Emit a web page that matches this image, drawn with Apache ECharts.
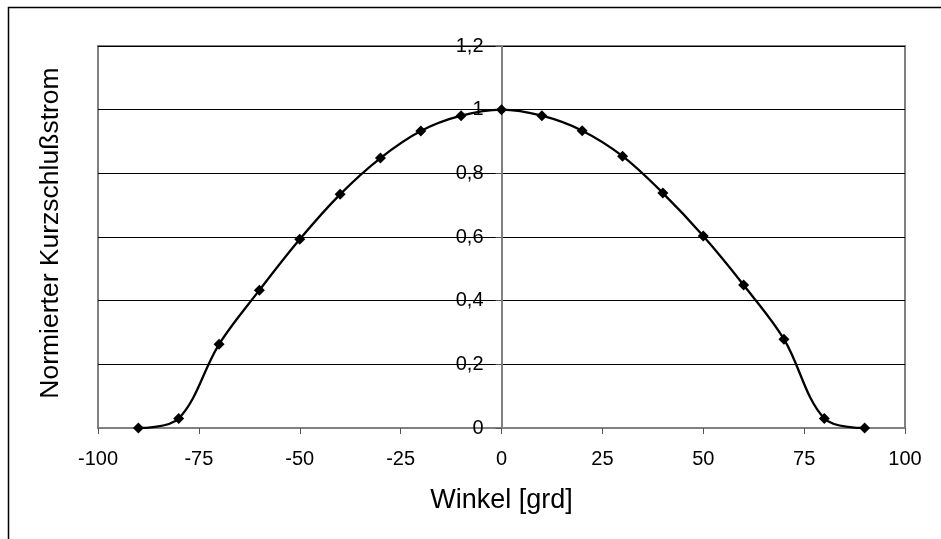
<!DOCTYPE html>
<html>
<head>
<meta charset="utf-8">
<script src="https://cdn.jsdelivr.net/npm/echarts@6/dist/echarts.min.js"></script>
<style>
html,body{margin:0;padding:0;background:#fff;}
#chart{width:941px;height:539px;}
</style>
</head>
<body>
<div id="chart"></div>
<script>
const angles = [-90, -80, -70, -60, -50, -40, -30, -20, -10, 0, 10, 20, 30, 40, 50, 60, 70, 80, 90];
const current = [0, 0.03, 0.263, 0.433, 0.593, 0.734, 0.848, 0.933, 0.981, 1.0, 0.981, 0.934, 0.854, 0.738, 0.603, 0.449, 0.279, 0.03, 0];
const xTitle = 'Winkel [grd]';
const yTitle = 'Normierter Kurzschlußstrom';

const points = angles.map((a, i) => [a, current[i]]);
const FONT = '"Liberation Sans", Arial, sans-serif';

const GRID_L = 98, GRID_R = 36, W = 941;
const gridW = W - GRID_L - GRID_R;

const chart = echarts.init(document.getElementById('chart'));
chart.setOption({
  animation: false,
  backgroundColor: '#fff',
  textStyle: { fontFamily: FONT },
  graphic: [
    { type: 'rect', shape: { x: 8.5, y: 7.5, width: 1200, height: 800 },
      style: { fill: 'none', stroke: '#000', lineWidth: 1.5 }, z: 0 },
    { type: 'text', x: GRID_L + gridW / 2, y: 501,
      style: { text: xTitle, font: '27px ' + FONT, fill: '#000', align: 'center', verticalAlign: 'middle' } },
    { type: 'text', x: 51, y: 233, rotation: Math.PI / 2,
      style: { text: yTitle, font: '26.5px ' + FONT, fill: '#000', align: 'center', verticalAlign: 'middle' } }
  ],
  grid: {
    left: GRID_L, right: GRID_R, top: 46, bottom: 111,
    show: true, borderColor: '#808080', borderWidth: 2, backgroundColor: 'transparent'
  },
  xAxis: {
    type: 'value', min: -100, max: 100, interval: 25,
    axisLine: { show: true, lineStyle: { color: '#808080', width: 2 } },
    axisTick: { show: true, length: 6, lineStyle: { color: '#555', width: 1 } },
    axisLabel: { color: '#000', fontSize: 20, fontFamily: FONT, margin: 21 },
    splitLine: { show: false }
  },
  yAxis: {
    type: 'value', min: 0, max: 1.2, interval: 0.2,
    offset: -gridW / 2,
    axisLine: { show: true, onZero: false, lineStyle: { color: '#808080', width: 2 } },
    axisTick: { show: true, length: 6, lineStyle: { color: '#555', width: 1 } },
    axisLabel: { color: '#000', fontSize: 20, fontFamily: FONT, margin: 18,
      formatter: v => String(Math.round(v * 10) / 10).replace('.', ',') },
    splitLine: { show: true, lineStyle: { color: '#000', width: 1 } }
  },
  series: [{
    type: 'line',
    data: points,
    smooth: 0.35,
    symbol: 'diamond',
    symbolSize: 11,
    itemStyle: { color: '#000' },
    lineStyle: { color: '#000', width: 2.3 },
    z: 5
  }]
});
</script>
</body>
</html>
